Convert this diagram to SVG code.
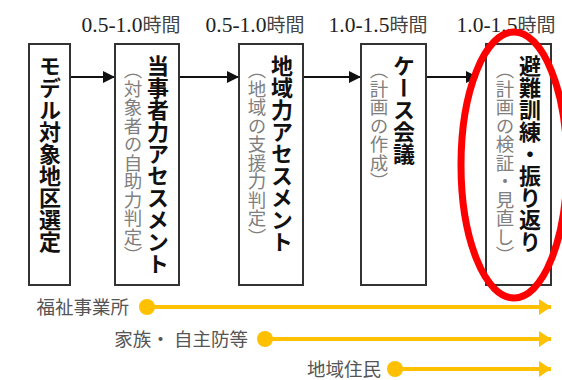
<svg xmlns="http://www.w3.org/2000/svg" width="562" height="380" viewBox="0 0 562 380">
<defs>
<style>
.box{fill:#fff;stroke:#333;stroke-width:2}
.main{font-family:"Noto Sans CJK JP","Noto Sans CJK SC",sans-serif;font-weight:bold;font-size:22px;fill:#111;writing-mode:vertical-rl}
.sub{font-family:"Noto Sans CJK JP","Noto Sans CJK SC",sans-serif;font-size:18.5px;fill:#808080;writing-mode:vertical-rl}
.time{font-family:"Liberation Serif","Noto Sans CJK JP",serif;font-size:21.5px;fill:#222;text-anchor:middle}
.time tspan{font-family:"Noto Sans CJK JP",sans-serif;font-size:19px;fill:#444}
.actor{font-family:"Noto Sans CJK JP",sans-serif;font-size:18.5px;fill:#555;text-anchor:end}
.flow{stroke:#111;stroke-width:2;fill:none}
.yl{stroke:#FFC000;stroke-width:4;fill:none}
</style>
<marker id="ah" viewBox="0 0 12 12" refX="12" refY="6" markerWidth="12" markerHeight="12" markerUnits="userSpaceOnUse" orient="auto">
<path d="M0,0 L12,6 L0,12 Z" fill="#111"/>
</marker>
<marker id="yh" viewBox="0 0 12 16" refX="12" refY="8" markerWidth="12" markerHeight="16" markerUnits="userSpaceOnUse" orient="auto">
<path d="M0,0 L12,8 L0,16 Z" fill="#FFC000"/>
</marker>
</defs>
<rect width="562" height="380" fill="#fff"/>

<g id="time-labels">
<text class="time" x="131" y="32">0.5-1.0<tspan>時間</tspan></text>
<text class="time" x="255" y="32">0.5-1.0<tspan>時間</tspan></text>
<text class="time" x="378" y="32">1.0-1.5<tspan>時間</tspan></text>
<text class="time" x="506" y="32">1.0-1.5<tspan>時間</tspan></text>
</g>

<g id="connectors">
<line class="flow" x1="70" y1="77" x2="115" y2="77" marker-end="url(#ah)"/>
<line class="flow" x1="179" y1="77" x2="239" y2="77" marker-end="url(#ah)"/>
<line class="flow" x1="303" y1="77" x2="361" y2="77" marker-end="url(#ah)"/>
<line class="flow" x1="426" y1="77" x2="478" y2="77" marker-end="url(#ah)"/>
<line class="yl" x1="147" y1="307" x2="551" y2="307" marker-end="url(#yh)"/>
<line class="yl" x1="265" y1="339" x2="551" y2="339" marker-end="url(#yh)"/>
<line class="yl" x1="395" y1="369" x2="551" y2="369" marker-end="url(#yh)"/>
<circle cx="147" cy="307" r="8" fill="#FFC000"/>
<circle cx="265" cy="339" r="8" fill="#FFC000"/>
<circle cx="395" cy="369" r="8" fill="#FFC000"/>
</g>

<g id="node-1">
<rect class="box" x="29" y="44" width="41" height="241"/>
<text class="main" x="50" y="55">モデル対象地区選定</text>
</g>
<g id="node-2">
<rect class="box" x="115" y="44" width="64" height="241"/>
<text class="main" x="158" y="55">当事者力アセスメント</text>
<text class="sub" x="133" y="61">（対象者の自助力判定）</text>
</g>
<g id="node-3">
<rect class="box" x="239" y="44" width="64" height="241"/>
<text class="main" x="282" y="55">地域力アセスメント</text>
<text class="sub" x="257" y="61">（地域の支援力判定）</text>
</g>
<g id="node-4">
<rect class="box" x="361" y="44" width="65" height="241"/>
<text class="main" x="404" y="55">ケース会議</text>
<text class="sub" x="379" y="61">（計画の作成）</text>
</g>
<g id="node-5">
<rect class="box" x="486" y="44" width="65" height="241"/>
<text class="main" x="530" y="55">避難訓練・振り返り</text>
<text class="sub" x="505" y="61">（計画の検証・見直し）</text>
</g>

<g id="actors">
<text class="actor" x="129" y="314">福祉事業所</text>
<text class="actor" x="248" y="346">家族・ 自主防等</text>
<text class="actor" x="381" y="376">地域住民</text>
</g>

<g id="highlight">
<ellipse cx="514" cy="165" rx="53" ry="133" fill="none" stroke="#F00" stroke-width="7"/>
</g>
</svg>
